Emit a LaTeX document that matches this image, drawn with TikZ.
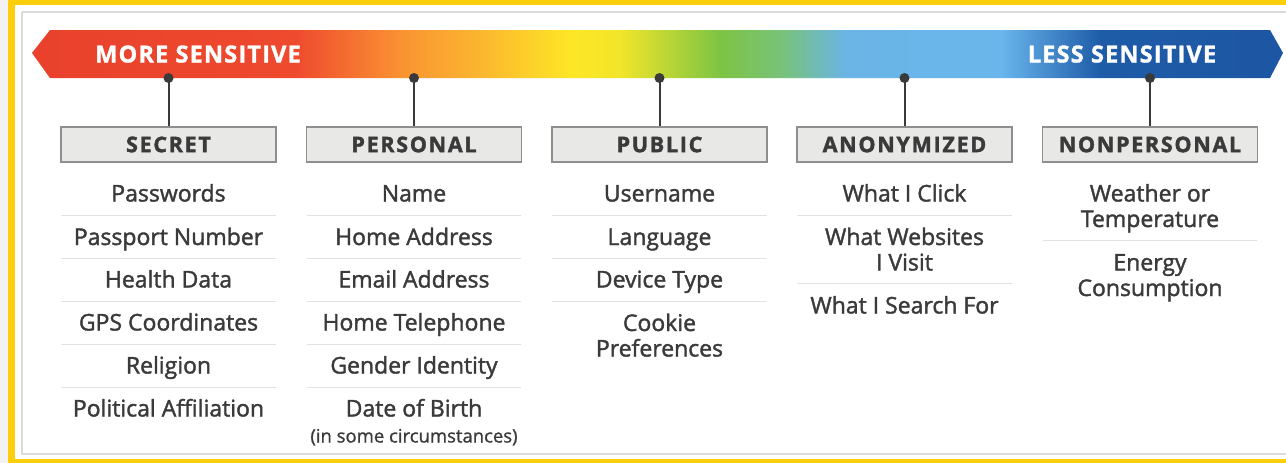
\documentclass[tikz,border=0pt]{standalone}
\usepackage{fontspec}
\setmainfont{Open Sans}
\newfontfamily\itfont{Open Sans}[FakeBold=1.6]
\newfontfamily\smfont{Open Sans}[FakeBold=1.0]
\newfontfamily\hdfont{Open Sans Bold}[LetterSpace=8,FakeBold=1.8]
\newfontfamily\bnfont{Open Sans Bold}[LetterSpace=5,FakeBold=1.4]
\definecolor{cR}{HTML}{E9412C}
\definecolor{cR2}{HTML}{EE4A2E}
\definecolor{cO}{HTML}{FA9632}
\definecolor{cO2}{HTML}{FBB52F}
\definecolor{cY}{HTML}{FDE626}
\definecolor{cY2}{HTML}{F2E52A}
\definecolor{cG}{HTML}{7DC443}
\definecolor{cG2}{HTML}{78C27A}
\definecolor{cLB}{HTML}{6AB4E6}
\definecolor{cLB2}{HTML}{6AB6EC}
\definecolor{cB}{HTML}{1E5CA8}
\definecolor{cB2}{HTML}{1D56A3}
\definecolor{gold}{HTML}{FCCE0C}
\definecolor{frame}{HTML}{DADADA}
\definecolor{ink}{HTML}{3A3A3A}
\definecolor{boxfill}{HTML}{E8E8E6}
\definecolor{boxline}{HTML}{8E8E8E}
\definecolor{sep}{HTML}{E2E2E2}
\pgfdeclarehorizontalshading{spectrum}{100bp}{color(0bp)=(cR); color(25bp)=(cR); color(35.5bp)=(cR2); color(40bp)=(cO); color(42.8bp)=(cO2); color(46.5bp)=(cY); color(48.5bp)=(cY2); color(52.5bp)=(cG); color(55bp)=(cG2); color(57.5bp)=(cLB); color(63.7bp)=(cLB2); color(67.7bp)=(cB); color(75bp)=(cB2); color(100bp)=(cB2)}
\tikzset{
  hdbox/.style={draw=boxline, line width=1.2pt, fill=boxfill, minimum width=215pt, minimum height=35pt, inner sep=0pt, font=\hdfont\fontsize{21.5}{24}\selectfont, text=ink},
  item/.style={font=\itfont\fontsize{23}{25.5}\selectfont, text=ink, align=center, inner sep=0pt, anchor=base},
  small/.style={font=\smfont\fontsize{18.5}{21}\selectfont, text=ink, inner sep=0pt, anchor=base},
  dot/.style={circle, fill=ink, minimum size=10pt, inner sep=0pt},
  stem/.style={draw=ink, line width=2pt},
  sepline/.style={draw=sep, line width=1pt},
  banner/.style={font=\bnfont\fontsize{23.5}{26}\selectfont, text=white, inner sep=0pt, anchor=base}
}
\begin{document}
\begin{tikzpicture}[x=1pt,y=-1pt]
\useasboundingbox (0,0) rectangle (1286,463);
\fill[white] (0,0) rectangle (1286,463);
\fill[black!5] (0,0) rectangle (8,463);
% yellow frame
\fill[gold] (8,0) rectangle (1286,5);
\fill[gold] (8,0) rectangle (15,463);
\fill[gold] (8,459) rectangle (1286,463);
% inner frame
\draw[frame, line width=1.5pt] (22,12) -- (1300,12);
\draw[frame, line width=1.5pt] (22,12) -- (22,454) -- (1300,454);
% banner
\path[shading=spectrum] (32,53) -- (50,30) -- (1270,30) -- (1283,53) -- (1270,78) -- (50,78) -- cycle;
\node[banner] (more) at (198,62.5) {MORE SENSITIVE};
\node[banner] (less) at (1122,62.5) {LESS SENSITIVE};
% dots and boxes
\foreach \n/\x/\t in {1/168.5/SECRET,2/414/PERSONAL,3/659.5/PUBLIC,4/904.5/ANONYMIZED,5/1150/NONPERSONAL}{
  \node[hdbox] (b\n) at (\x,144.5) {\t};
  \node[dot] (d\n) at (\x,78) {};
  \draw[stem] (d\n.center) -- (b\n.north);
}
% column 1
\node[item] (s1) at (168.5,201.5) {Passwords};
\node[item] (s2) at (168.5,245) {Passport Number};
\node[item] (s3) at (168.5,287.5) {Health Data};
\node[item] (s4) at (168.5,330.5) {GPS Coordinates};
\node[item] (s5) at (168.5,373.5) {Religion};
\node[item] (s6) at (168.5,416.5) {Political Affiliation};
\foreach \y in {215,258,301,344,387}{\draw[sepline] (61,\y) -- (276,\y);}
% column 2
\node[item] (p1) at (414,201.5) {Name};
\node[item] (p2) at (414,245) {Home Address};
\node[item] (p3) at (414,287.5) {Email Address};
\node[item] (p4) at (414,330.5) {Home Telephone};
\node[item] (p5) at (414,373.5) {Gender Identity};
\node[item] (p6) at (414,416.5) {Date of Birth};
\node[small] (p7) at (414,442.5) {(in some circumstances)};
\foreach \y in {215,258,301,344,387}{\draw[sepline] (307,\y) -- (521,\y);}
% column 3
\node[item] (u1) at (659.5,201.5) {Username};
\node[item] (u2) at (659.5,245) {Language};
\node[item] (u3) at (659.5,287.5) {Device Type};
\node[item] (u4) at (659.5,356.5) {Cookie\\Preferences};
\foreach \y in {215,258,301}{\draw[sepline] (552,\y) -- (767,\y);}
% column 4
\node[item] (a1) at (904.5,201.5) {What I Click};
\node[item] (a2) at (904.5,270.5) {What Websites\\I Visit};
\node[item] (a3) at (904.5,313.5) {What I Search For};
\foreach \y in {215,283}{\draw[sepline] (797,\y) -- (1012,\y);}
% column 5
\node[item] (n1) at (1150,227) {Weather or\\Temperature};
\node[item] (n2) at (1150,296) {Energy\\Consumption};
\draw[sepline] (1043,240) -- (1257,240);
\end{tikzpicture}
\end{document}
